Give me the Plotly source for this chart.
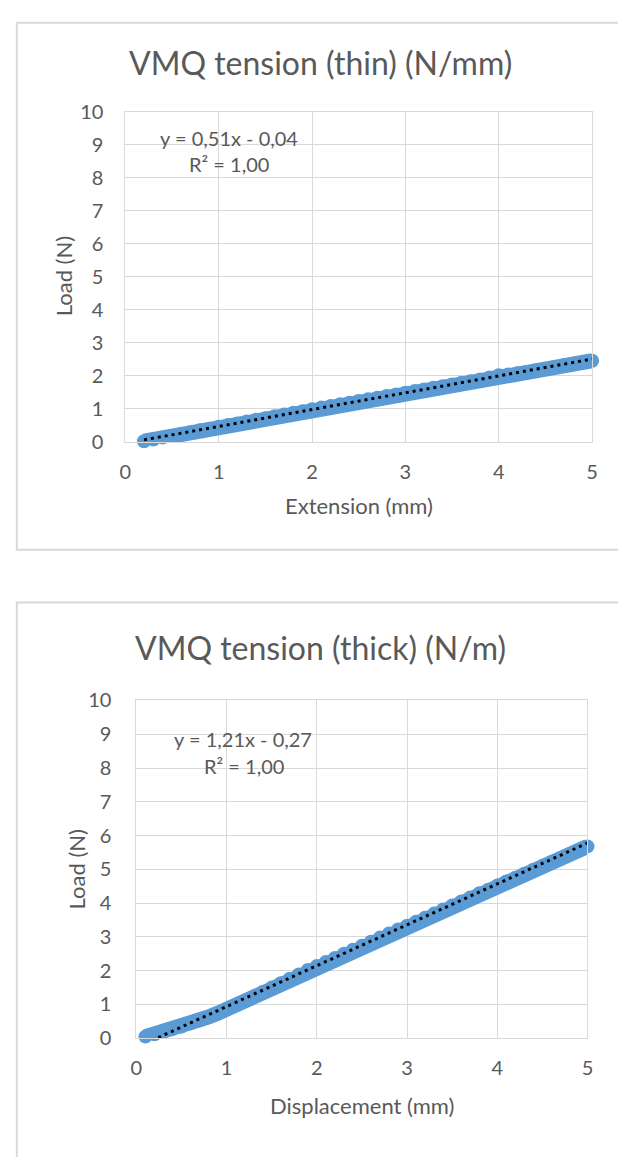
import plotly.graph_objects as go

W, H = 618, 1157

# ---------------- data ----------------
thin_x = [0.2, 0.3, 0.4, 0.5, 0.6, 0.7, 0.8, 0.9, 1.0, 1.1, 1.2, 1.3, 1.4, 1.5, 1.6, 1.7,
          1.8, 1.9, 2.0, 2.1, 2.2, 2.3, 2.4, 2.5, 2.6, 2.7, 2.8, 2.9, 3.0, 3.1, 3.2, 3.3,
          3.4, 3.5, 3.6, 3.7, 3.8, 3.9, 4.0, 4.1, 4.2, 4.3, 4.4, 4.5, 4.6, 4.7, 4.8, 4.9, 5.0]
thin_y = [0.02, 0.07, 0.13, 0.18, 0.24, 0.29, 0.35, 0.40, 0.46, 0.51, 0.56, 0.62, 0.67, 0.72,
          0.78, 0.83, 0.88, 0.93, 0.99, 1.04, 1.09, 1.14, 1.19, 1.24, 1.29, 1.34, 1.39, 1.44,
          1.49, 1.54, 1.59, 1.64, 1.69, 1.74, 1.79, 1.84, 1.89, 1.95, 2.02, 2.04, 2.08, 2.12,
          2.17, 2.22, 2.27, 2.32, 2.36, 2.41, 2.46]

thick_x = [0.1, 0.2, 0.3, 0.4, 0.5, 0.6, 0.7, 0.8, 0.9, 1.0, 1.1, 1.2, 1.3, 1.4, 1.5, 1.6,
           1.7, 1.8, 1.9, 2.0, 2.1, 2.2, 2.3, 2.4, 2.5, 2.6, 2.7, 2.8, 2.9, 3.0, 3.1, 3.2,
           3.3, 3.4, 3.5, 3.6, 3.7, 3.8, 3.9, 4.0, 4.1, 4.2, 4.3, 4.4, 4.5, 4.6, 4.7, 4.8,
           4.9, 5.0]
thick_y = [0.05, 0.12, 0.19, 0.27, 0.35, 0.44, 0.53, 0.63, 0.74, 0.86, 0.98, 1.11, 1.24, 1.37,
           1.50, 1.63, 1.76, 1.89, 2.02, 2.14, 2.26, 2.38, 2.50, 2.62, 2.74, 2.86, 2.98, 3.10,
           3.22, 3.33, 3.45, 3.57, 3.69, 3.81, 3.93, 4.05, 4.17, 4.29, 4.40, 4.52, 4.64, 4.75,
           4.87, 4.99, 5.10, 5.22, 5.33, 5.45, 5.56, 5.68]

thin_fit = [0.51, -0.04]    # slope, intercept
thick_fit = [1.21, -0.27]

titles = ["VMQ tension (thin) (N/mm)", "VMQ tension (thick) (N/m)"]
x_titles = ["Extension (mm)", "Displacement (mm)"]
y_title = "Load (N)"
eq_texts = [["y = 0,51x - 0,04", "R² = 1,00"], ["y = 1,21x - 0,27", "R² = 1,00"]]
x_ticks = [0, 1, 2, 3, 4, 5]
y_ticks = [0, 1, 2, 3, 4, 5, 6, 7, 8, 9, 10]

# ---------------- style ----------------
FONT = "Lato"
TXT = "#595959"
GRID = "#D9D9D9"
BLUE = "#5B9BD5"


def px(x):
    return x / W


def py(y):
    return 1 - y / H


fig = go.Figure()

# panel geometry in pixels: (left, right, top, bottom, y-label standoff)
panels = [(121.7, 597.7, 101, 438, 17), (133, 593, 702, 1047, 20)]
datasets = [(thin_x, thin_y, thin_fit), (thick_x, thick_y, thick_fit)]

for i, ((l, r, t, b, ystand), (xs, ys, fit)) in enumerate(zip(panels, datasets)):
    xa = "x" if i == 0 else "x2"
    ya = "y" if i == 0 else "y2"
    fig.add_trace(go.Scatter(x=xs, y=ys, mode="lines+markers", xaxis=xa, yaxis=ya,
                             line=dict(color=BLUE, width=15),
                             marker=dict(size=14, color=BLUE, line=dict(width=0)),
                             showlegend=False, cliponaxis=False))
    trend_y = [fit[0] * xv + fit[1] for xv in xs]
    fig.add_trace(go.Scatter(x=xs, y=trend_y, mode="lines", xaxis=xa, yaxis=ya,
                             line=dict(color="black", width=3, dash="3px,4px"),
                             showlegend=False))
    axis_common = dict(showgrid=True, gridcolor=GRID, gridwidth=1, zeroline=False,
                       showline=True, linecolor=GRID, linewidth=1, mirror=True,
                       tickfont=dict(family=FONT, size=20, color=TXT), ticks="")
    xkey = "xaxis" if i == 0 else "xaxis2"
    ykey = "yaxis" if i == 0 else "yaxis2"
    fig.update_layout(**{
        xkey: dict(domain=[px(l), px(r)], range=[0, 5], tickvals=x_ticks,
                   anchor=ya, ticklabelstandoff=12, **axis_common),
        ykey: dict(domain=[py(b), py(t)], range=[0, 10], tickvals=y_ticks,
                   anchor=xa, ticklabelstandoff=ystand, **axis_common),
    })

# borders of the two chart boxes
fig.add_shape(type="rect", xref="paper", yref="paper", x0=px(11), x1=px(640),
              y0=py(548), y1=py(10), line=dict(color=GRID, width=2), layer="below")
fig.add_shape(type="rect", xref="paper", yref="paper", x0=px(11), x1=px(640),
              y0=py(1180), y1=py(602), line=dict(color=GRID, width=2), layer="below")


def text(x, y, s, size, angle=0):
    fig.add_annotation(x=px(x), y=py(y), xref="paper", yref="paper", text=s,
                       showarrow=False, xanchor="center", yanchor="middle",
                       textangle=angle, font=dict(family=FONT, size=size, color=TXT))


# titles
text(321, 51, titles[0], 32)
text(321, 648, titles[1], 32)
# axis titles
text(360, 503, x_titles[0], 22)
text(363, 1116, x_titles[1], 22)
text(59, 269, y_title, 22, -90)
text(72, 875, y_title, 22, -90)
# trendline equations
text(227, 128, eq_texts[0][0], 20)
text(227, 154, eq_texts[0][1], 20)
text(242, 741, eq_texts[1][0], 20)
text(243, 769, eq_texts[1][1], 20)

fig.update_layout(width=W, height=H, margin=dict(l=0, r=0, t=0, b=0),
                  paper_bgcolor="white", plot_bgcolor="white", showlegend=False)

fig.write_html("out.html")
